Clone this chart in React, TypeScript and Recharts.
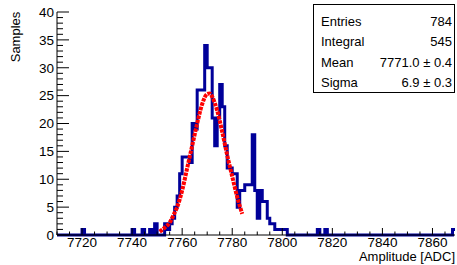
import { Line, LineChart, XAxis, YAxis } from "recharts";

const X_MIN = 7710;
const X_MAX = 7869;

// bins are 1 ADC wide; only the non-empty ones are listed
const filledBins = [
  7720, 7740, 7744, 7747, 7749, 7753, 7754, 7755, 7756, 7757, 7758, 7759, 7760, 7761, 7762, 7763, 7764, 7765,
  7766, 7767, 7768, 7769, 7770, 7771, 7772, 7773, 7774, 7775, 7776, 7777, 7778, 7779, 7780, 7781, 7782, 7783,
  7784, 7785, 7786, 7787, 7788, 7789, 7790, 7791, 7792, 7793, 7794, 7795, 7796, 7797, 7798, 7799, 7800, 7801,
  7814, 7817, 7868,
];
const binCounts = [
  1, 1, 1, 1, 2, 2, 1, 2, 3, 5, 7, 11, 14, 14, 14, 13, 20, 19,
  26, 26, 26, 34, 30, 30, 21, 16, 21, 27, 23, 16, 12, 12, 11, 11, 5, 8,
  8, 9, 9, 9, 18, 8, 3, 8, 6, 6, 3, 2, 2, 1, 1, 1, 1, 1,
  1, 1, 1,
];

// gaussian fit curve
const fitX = [7751, 7753, 7755, 7757, 7758, 7760, 7762, 7764, 7766, 7768, 7770, 7771, 7772, 7774, 7776, 7778, 7780, 7782, 7784];
const fitY = [0.6, 1.3, 2.2, 4.0, 5.0, 8.0, 12.0, 16.0, 20.0, 23.5, 25.3, 25.4, 24.8, 22.3, 18.5, 14.3, 10.5, 6.8, 3.8];

const xLabelTicks = [7720, 7740, 7760, 7780, 7800, 7820, 7840, 7860];
const yLabelTicks = [0, 5, 10, 15, 20, 25, 30, 35, 40];

const statNames = ["Entries", "Integral", "Mean", "Sigma"];
const statValues = ["784", "545", "7771.0 \u00b1 0.4", "6.9 \u00b1 0.3"];

const FONT = "'Liberation Sans', Arial, Helvetica, sans-serif";
const HIST_COLOR = "#000099";

const xTicks: number[] = [];
for (let v = X_MIN; v <= X_MAX; v += 5) xTicks.push(v);
const yTicks: number[] = [];
for (let v = 0; v <= 40; v += 1) yTicks.push(v);

const countAt = (v: number) => {
  const i = filledBins.indexOf(v);
  return i < 0 ? 0 : binCounts[i];
};

const histData: { x: number; n: number }[] = [];
for (let v = X_MIN; v < X_MAX; v += 1) histData.push({ x: v, n: countAt(v) });
histData.push({ x: X_MAX, n: countAt(X_MAX - 1) });

const fitData = fitX.map((x, i) => ({ x, y: fitY[i] }));

const BottomTick = ({ x, y, payload }: any) => {
  const major = xLabelTicks.includes(payload.value);
  return (
    <g>
      <line x1={x} x2={x} y1={y} y2={y - (major ? 7 : 3.5)} stroke="#000" />
      {major && (
        <text x={x} y={y + 12} textAnchor="middle" fontSize={13.5} fontFamily={FONT} fill="#000">
          {payload.value}
        </text>
      )}
    </g>
  );
};

const TopTick = ({ x, y, payload }: any) => {
  const major = xLabelTicks.includes(payload.value);
  return <line x1={x} x2={x} y1={y} y2={y + (major ? 7 : 3.5)} stroke="#000" />;
};

const LeftTick = ({ x, y, payload }: any) => {
  const major = yLabelTicks.includes(payload.value);
  return (
    <g>
      <line x1={x} x2={x + (major ? 12 : 6)} y1={y} y2={y} stroke="#000" />
      {major && (
        <text x={x - 3} y={y + 4.8} textAnchor="end" fontSize={13.5} fontFamily={FONT} fill="#000">
          {payload.value}
        </text>
      )}
    </g>
  );
};

const RightTick = ({ x, y, payload }: any) => {
  const major = yLabelTicks.includes(payload.value);
  return <line x1={x} x2={x - (major ? 12 : 6)} y1={y} y2={y} stroke="#000" />;
};

export default function App() {
  return (
    <div style={{ position: "absolute", left: 0, top: 0, width: 457, height: 265, background: "#fff" }}>
      <LineChart width={457} height={265} data={histData} margin={{ top: 12, right: 2, bottom: 0, left: 0 }}>
        <XAxis
          xAxisId="b"
          dataKey="x"
          type="number"
          domain={[X_MIN, X_MAX]}
          ticks={xTicks}
          interval={0}
          tickSize={0}
          tickMargin={0}
          tickLine={false}
          tick={BottomTick}
          height={30}
          axisLine={{ stroke: "#000" }}
        />
        <XAxis
          xAxisId="t"
          orientation="top"
          type="number"
          domain={[X_MIN, X_MAX]}
          allowDataOverflow
          ticks={xTicks}
          interval={0}
          tickSize={0}
          tickMargin={0}
          tickLine={false}
          tick={TopTick}
          height={0}
          axisLine={{ stroke: "#000" }}
        />
        <YAxis
          yAxisId="l"
          type="number"
          domain={[0, 40]}
          ticks={yTicks}
          interval={0}
          tickSize={0}
          tickMargin={0}
          tickLine={false}
          tick={LeftTick}
          width={57}
          axisLine={{ stroke: "#000" }}
        />
        <YAxis
          yAxisId="r"
          orientation="right"
          type="number"
          domain={[0, 40]}
          allowDataOverflow
          ticks={yTicks}
          interval={0}
          tickSize={0}
          tickMargin={0}
          tickLine={false}
          tick={RightTick}
          width={0}
          axisLine={{ stroke: "#000" }}
        />
        <Line
          xAxisId="b"
          yAxisId="l"
          type="stepAfter"
          dataKey="n"
          stroke={HIST_COLOR}
          strokeWidth={3}
          dot={false}
          isAnimationActive={false}
        />
        <Line
          xAxisId="b"
          yAxisId="l"
          data={fitData}
          dataKey="y"
          type="monotone"
          stroke="#ff0000"
          strokeWidth={4}
          strokeDasharray="3.5 1"
          dot={false}
          isAnimationActive={false}
        />
      </LineChart>
      <svg width={457} height={265} style={{ position: "absolute", left: 0, top: 0, pointerEvents: "none" }}>
        <rect x={313.5} y={4.5} width={141} height={88} fill="#fff" stroke="#000" />
        {statNames.map((name, i) => (
          <g key={name} fontFamily={FONT} fontSize={13} fill="#000">
            <text x={321} y={26 + i * 20.3}>
              {name}
            </text>
            <text x={452} y={26 + i * 20.3} textAnchor="end">
              {statValues[i]}
            </text>
          </g>
        ))}
        <text x={20} y={37} transform="rotate(-90 20 37)" textAnchor="middle" fontFamily={FONT} fontSize={13}>
          Samples
        </text>
        <text x={455} y={261} textAnchor="end" fontFamily={FONT} fontSize={13}>
          Amplitude [ADC]
        </text>
      </svg>
    </div>
  );
}
